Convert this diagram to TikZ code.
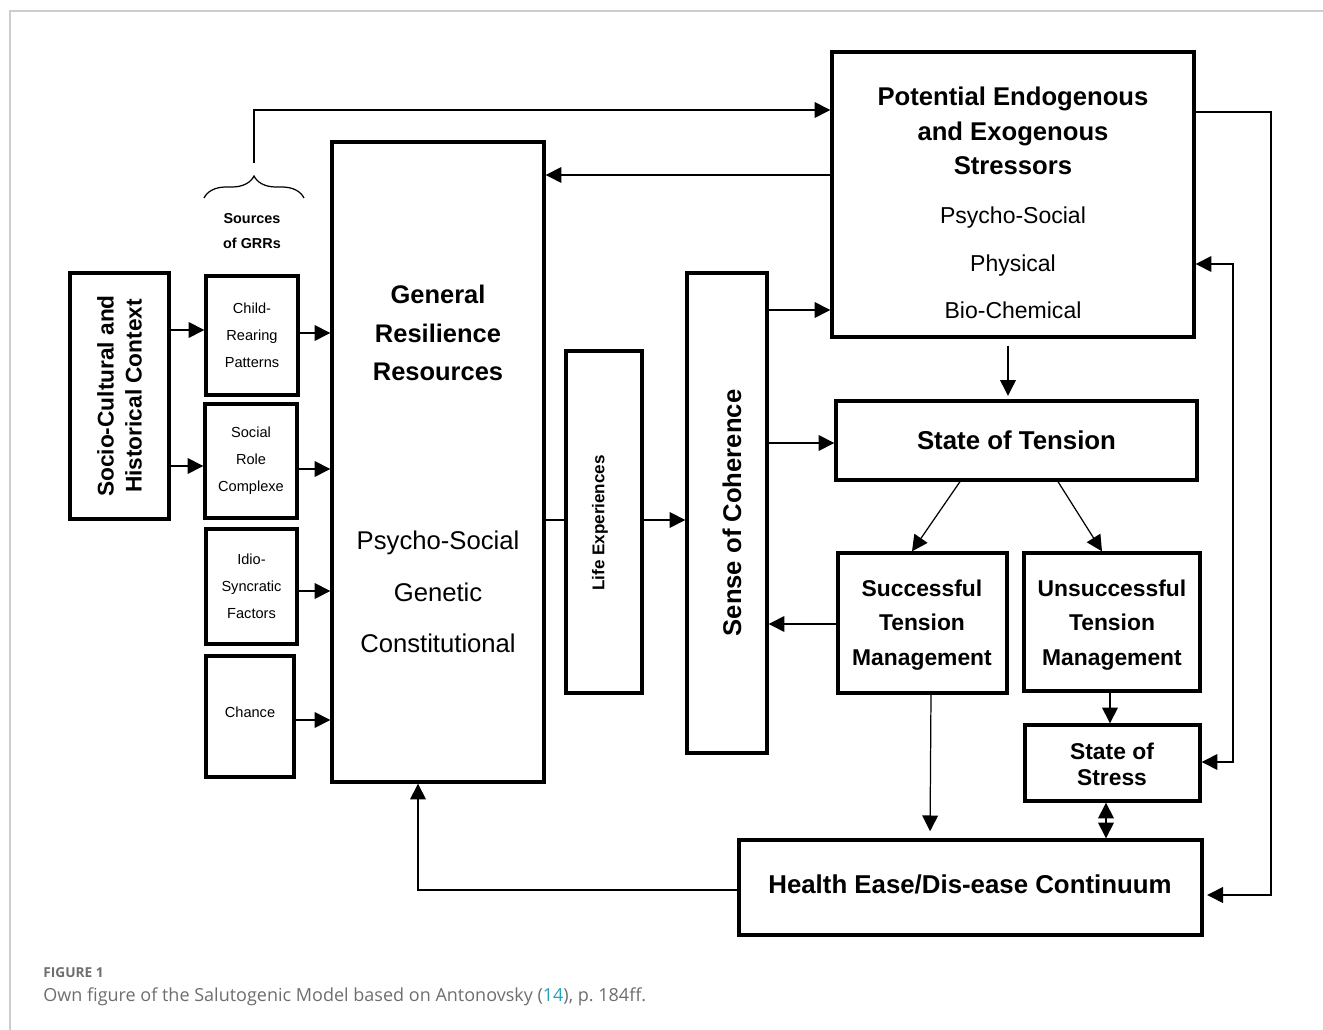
\documentclass[tikz,border=0pt]{standalone}
\usepackage{fontspec}
\setmainfont{Liberation Sans}
\newfontfamily\capfont{Open Sans}
\usetikzlibrary{positioning,arrows.meta,fit,decorations.pathreplacing}
\definecolor{framegray}{RGB}{205,205,205}
\definecolor{capgray}{RGB}{110,110,110}
\definecolor{citeteal}{RGB}{35,165,185}

\begin{document}
\begin{tikzpicture}[x=0.02cm, y=-0.02cm,
    box/.style={draw, line width=1.9pt, inner sep=0pt},
    link/.style={line width=0.7pt},
    arr/.style={link, -{Triangle[length=9pt,width=9pt]}},
    dbl/.style={link, {Triangle[length=9pt,width=9pt]}-{Triangle[length=9pt,width=9pt]}},
    small/.style={font=\fontsize{8.3}{15.3}\selectfont, align=center}]
    \useasboundingbox (0,0) rectangle (1323,1030);
    \draw[framegray, line width=1pt] (10,1030) -- (10,11) -- (1323,11);

    % Socio-cultural context
    \node[box, fit={(70,273) (169,519)}] (context) {};
    \node[rotate=90, align=center, font=\bfseries\fontsize{12.9}{15.9}\selectfont] (contexttxt) at (context.center) {Socio-Cultural and\\Historical Context};

    % Sources of GRRs
    \draw[link, decorate, decoration={brace, amplitude=0.44cm}] (204,198) -- (304,198);
    \coordinate (bracetip) at (254,163);
    \node[font=\bfseries\fontsize{8.2}{14.7}\selectfont, align=center] (sources) at (252,231) {Sources\\of GRRs};
    \node[box, fit={(206,276) (298,395)}] (child) {};
    \node[small] (childtxt) at (child.center) {Child-\\Rearing\\Patterns};
    \node[box, fit={(205,404) (297,518)}] (role) {};
    \node[small] (roletxt) at (role.center) {Social\\Role\\Complexe};
    \node[box, fit={(206,529) (297,644)}] (idio) {};
    \node[small] (idiotxt) at (idio.center) {Idio-\\Syncratic\\Factors};
    \node[box, fit={(206,656) (294,777)}] (chance) {};
    \node[small] (chancetxt) at (250,712) {Chance};

    % General resilience resources
    \node[box, fit={(332,142) (544,782)}] (grr) {};
    \node[font=\bfseries\fontsize{14.5}{21.8}\selectfont, align=center] (grrtitle) at (438,333) {General\\Resilience\\Resources};
    \node[font=\fontsize{14.6}{29.5}\selectfont, align=center] (grrsub) at (438,592) {Psycho-Social\\Genetic\\Constitutional};

    % Life experiences and SOC
    \node[box, fit={(566,351) (642,693)}] (life) {};
    \node[rotate=90, font=\bfseries\fontsize{9.7}{12}\selectfont] (lifetxt) at (600,523) {Life Experiences};
    \node[box, fit={(687,273) (767,753)}] (coh) {};
    \node[rotate=90, font=\bfseries\fontsize{14.6}{17}\selectfont] (cohtxt) at (732,513) {Sense of Coherence};

    % Stressors
    \node[box, fit={(832,52) (1194,337)}] (stressors) {};
    \node[font=\bfseries\fontsize{14.6}{19.6}\selectfont, align=center] (stressorstitle) at (1013,131) {Potential Endogenous\\and Exogenous\\Stressors};
    \node[font=\fontsize{13.1}{27}\selectfont, align=center] (stressorssub) at (1013,263) {Psycho-Social\\Physical\\Bio-Chemical};

    % Tension and its management
    \node[box, fit={(836,401) (1197,480)}] (tension) {};
    \node[font=\bfseries\fontsize{14.7}{17}\selectfont] (tensiontxt) at (tension.center) {State of Tension};
    \node[box, fit={(838,553) (1007,693)}] (succ) {};
    \node[font=\bfseries\fontsize{13}{19.8}\selectfont, align=center] (succtxt) at (922,625) {Successful\\Tension\\Management};
    \node[box, fit={(1024,553) (1200,691)}] (unsucc) {};
    \node[font=\bfseries\fontsize{13}{19.8}\selectfont, align=center] (unsucctxt) at (1112,625) {Unsuccessful\\Tension\\Management};
    \node[box, fit={(1025,725) (1200,801)}] (stress) {};
    \node[font=\bfseries\fontsize{13}{14.7}\selectfont, align=center] (stresstxt) at (1112,764) {State of\\Stress};

    % Health continuum
    \node[box, fit={(739,840) (1202,935)}] (health) {};
    \node[font=\bfseries\fontsize{14.7}{17}\selectfont] (healthtxt) at (970,884) {Health Ease/Dis-ease Continuum};

    % Arrows on the left
    \draw[arr] (context.east |- 0,330) -- (child.west |- 0,330);
    \draw[arr] (context.east |- 0,466) -- (role.west |- 0,466);
    \draw[arr] (child.east |- 0,333) -- (grr.west |- 0,333);
    \draw[arr] (role.east |- 0,469) -- (grr.west |- 0,469);
    \draw[arr] (idio.east |- 0,591) -- (grr.west |- 0,591);
    \draw[arr] (chance.east |- 0,720) -- (grr.west |- 0,720);
    \draw[arr] (bracetip) |- (stressors.west |- 0,110);
    \draw[arr] (stressors.west |- 0,175) -- (grr.east |- 0,175);

    % Middle
    \draw[link] (grr.east |- 0,520) -- (life.west |- 0,520);
    \draw[arr] (life.east |- 0,520) -- (coh.west |- 0,520);
    \draw[arr] (coh.east |- 0,310) -- (stressors.west |- 0,310);
    \draw[arr] (coh.east |- 0,443) -- (tension.west |- 0,443);
    \draw[arr] (succ.west |- 0,624) -- (coh.east |- 0,624);

    % Right side
    \draw[arr, shorten <=4pt, shorten >=2pt] (stressors.south -| 1008,0) -- (tension.north -| 1008,0);
    \draw[arr] (tension.south -| 960,0) -- (succ.north -| 912,0);
    \draw[arr] (tension.south -| 1058,0) -- (unsucc.north -| 1102,0);
    \draw[arr, shorten >=4pt] (succ.south -| 931,0) -- (health.north -| 930,0);
    \draw[arr] (unsucc.south -| 1110,0) -- (stress.north -| 1110,0);
    \draw[dbl] (stress.south -| 1106,0) -- (health.north -| 1106,0);
    \draw[arr, shorten >=2pt] (stressors.east |- 0,112) -- (1271,112) |- (health.east |- 0,895);
    \draw[dbl] (stressors.east |- 0,264) -- (1233,264) |- (stress.east |- 0,762);
    \draw[arr] (health.west |- 0,890) -| (grr.south -| 418,0);

    % Caption
    \node[anchor=base west, inner sep=0pt, font=\capfont\bfseries\fontsize{7.8}{10}\selectfont, text=capgray] (figlabel) at (43,977) {FIGURE 1};
    \node[anchor=base west, inner sep=0pt, font=\capfont\fontsize{10.25}{12}\selectfont, text=capgray] (caption) at (43,1001) {Own figure of the Salutogenic Model based on Antonovsky ({\color{citeteal}14}), p.~184ff.};
\end{tikzpicture}
\end{document}
